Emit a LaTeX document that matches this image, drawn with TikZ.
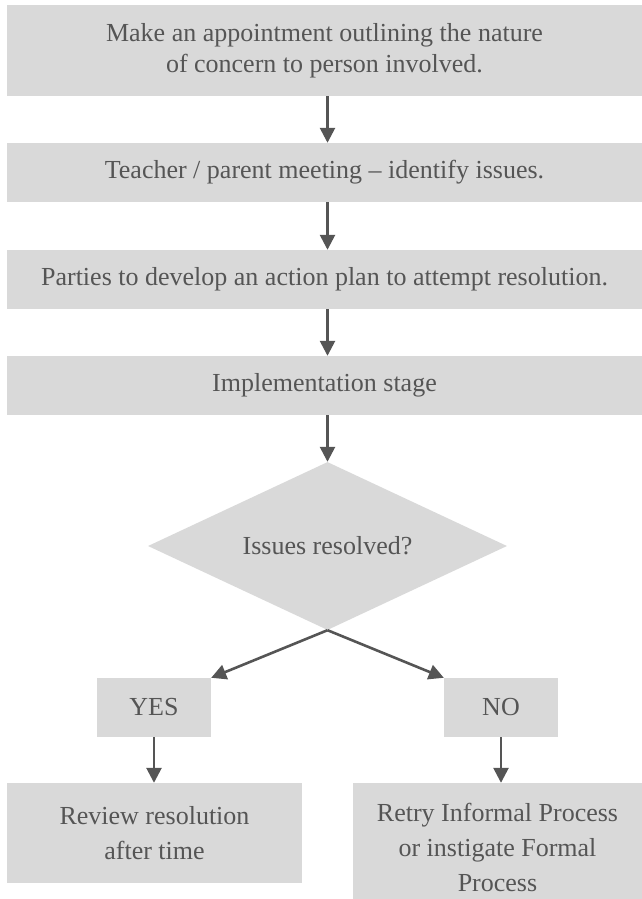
\documentclass[tikz,border=0pt]{standalone}
\usepackage{fontspec}
\setmainfont{Liberation Serif}
\usetikzlibrary{shapes.geometric,arrows.meta}
\definecolor{boxfill}{HTML}{D9D9D9}
\definecolor{ink}{HTML}{555555}
\tikzset{
  stepbox/.style={fill=boxfill, draw=none, text=ink, inner sep=0pt, align=center,
    font=\fontsize{26}{35}\selectfont},
  decision/.style={diamond, aspect=2.14, fill=boxfill, draw=none, text=ink, inner sep=0pt,
    font=\fontsize{26}{35}\selectfont},
  arr/.style={draw=ink, line width=2.6pt, -{Triangle[width=15pt,length=15pt]}},
}
\begin{document}
\begin{tikzpicture}[x=1pt,y=-1pt]
\useasboundingbox (0,0) rectangle (642,899);
\clip (0,0) rectangle (642,899);
\node[stepbox, minimum width=635pt, minimum height=91pt,
  font=\fontsize{26}{31}\selectfont] (b1) at (324.5,50.5)
  {Make an appointment outlining the nature\\of concern to person involved.};
\node[stepbox, minimum width=635pt, minimum height=59pt] (b2) at (324.5,172.5)
  {Teacher / parent meeting -- identify issues.};
\node[stepbox, minimum width=635pt, minimum height=59pt] (b3) at (324.5,279.5)
  {Parties to develop an action plan to attempt resolution.};
\node[stepbox, minimum width=635pt, minimum height=59pt] (b4) at (324.5,385.5)
  {Implementation stage};
\node[decision, minimum width=359pt, minimum height=168pt] (d) at (327.5,546)
  {Issues resolved?};
\node[stepbox, minimum width=114pt, minimum height=59pt] (yes) at (154,707.5) {YES};
\node[stepbox, minimum width=114pt, minimum height=59pt] (no) at (501,707.5) {NO};
\node[stepbox, minimum width=295pt, minimum height=100pt] (rev) at (154.5,833)
  {Review resolution\\after time};
\node[stepbox, minimum width=289pt, minimum height=129pt] (retry) at (497.5,847.5)
  {Retry Informal Process\\or instigate Formal\\Process};
\draw[arr] (b1.south -| d.north) -- (b2.north -| d.north);
\draw[arr] (b2.south -| d.north) -- (b3.north -| d.north);
\draw[arr] (b3.south -| d.north) -- (b4.north -| d.north);
\draw[arr] (b4.south -| d.north) -- (d.north);
\draw[arr] (d.south) -- (yes.north east);
\draw[arr] (d.south) -- (no.north west);
\draw[arr] (yes.south) -- (rev.north -| yes.south);
\draw[arr] (no.south) -- (retry.north -| no.south);
\end{tikzpicture}
\end{document}
